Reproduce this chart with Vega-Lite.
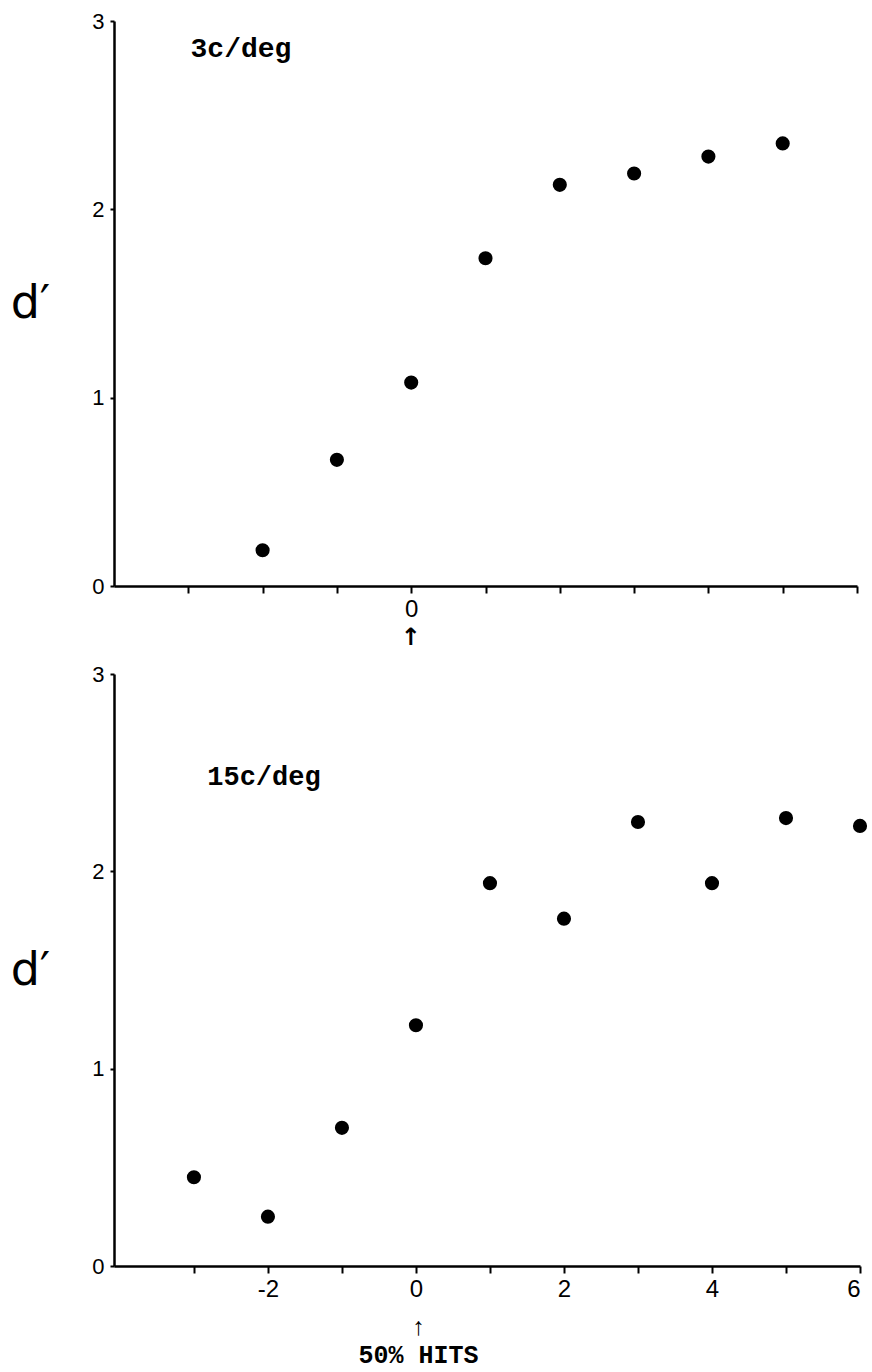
{
  "$schema": "https://vega.github.io/schema/vega-lite/v6.json",
  "background": "white",
  "padding": {"left": 10, "top": 10, "right": 8, "bottom": 2},
  "spacing": 14,
  "config": {
    "view": {"stroke": null},
    "axis": {
      "domainColor": "black", "domainWidth": 2.5, "tickColor": "black", "tickWidth": 2,
      "grid": false, "labelColor": "black", "labelFont": "Liberation Sans", "titleColor": "black"
    }
  },
  "vconcat": [
    {
      "width": 743, "height": 565,
      "layer": [
        {
          "data": {"values": [
            {"offset": -2, "dprime": 0.19},
            {"offset": -1, "dprime": 0.67},
            {"offset": 0, "dprime": 1.08},
            {"offset": 1, "dprime": 1.74},
            {"offset": 2, "dprime": 2.13},
            {"offset": 3, "dprime": 2.19},
            {"offset": 4, "dprime": 2.28},
            {"offset": 5, "dprime": 2.35}
          ]},
          "mark": {"type": "circle", "size": 200, "color": "black", "opacity": 1},
          "encoding": {
            "x": {"field": "offset", "type": "quantitative",
              "scale": {"domain": [-4, 6], "nice": false, "zero": false},
              "axis": {"values": [-3, -2, -1, 0, 1, 2, 3, 4, 5, 6], "format": "d", "labelExpr": "datum.value == 0 ? '0' : ''",
                "tickSize": 7, "labelFontSize": 24, "labelPadding": 4,
                "title": "↑", "titleX": 296, "titleAlign": "center", "titleFont": "DejaVu Sans",
                "titleFontSize": 24, "titleFontWeight": "bold", "titlePadding": 4}},
            "y": {"field": "dprime", "type": "quantitative",
              "scale": {"domain": [0, 3], "nice": false},
              "axis": {"values": [0, 1, 2, 3], "format": "d", "tickSize": 4, "labelFontSize": 22, "labelPadding": 6,
                "title": "d′", "titleAngle": 0, "titleFont": "DejaVu Sans", "titleFontSize": 46,
                "titleFontWeight": "normal", "titleX": -84, "titleY": 282, "titleAlign": "center", "titleBaseline": "middle"}}
          }
        },
        {
          "data": {"values": [{"offset": -2.97, "dprime": 2.85, "label": "3c/deg"}]},
          "mark": {"type": "text", "align": "left", "baseline": "middle", "font": "Liberation Mono",
            "fontSize": 28, "fontWeight": "bold", "color": "black"},
          "encoding": {
            "x": {"field": "offset", "type": "quantitative"},
            "y": {"field": "dprime", "type": "quantitative"},
            "text": {"field": "label"}
          }
        }
      ]
    },
    {
      "width": 746, "height": 592,
      "layer": [
        {
          "data": {"values": [
            {"offset": -3, "dprime": 0.45},
            {"offset": -2, "dprime": 0.25},
            {"offset": -1, "dprime": 0.70},
            {"offset": 0, "dprime": 1.22},
            {"offset": 1, "dprime": 1.94},
            {"offset": 2, "dprime": 1.76},
            {"offset": 3, "dprime": 2.25},
            {"offset": 4, "dprime": 1.94},
            {"offset": 5, "dprime": 2.27},
            {"offset": 6, "dprime": 2.23}
          ]},
          "mark": {"type": "circle", "size": 200, "color": "black", "opacity": 1},
          "encoding": {
            "x": {"field": "offset", "type": "quantitative",
              "scale": {"domain": [-4.08, 6], "nice": false, "zero": false},
              "axis": {"values": [-3, -2, -1, 0, 1, 2, 3, 4, 5, 6], "format": "d",
                "labelExpr": "datum.value % 2 == 0 ? replace(datum.label, '−', '-') : ''",
                "tickSize": 7, "labelFontSize": 24, "labelPadding": 4,
                "title": ["↑", "50% HITS"], "titleX": 304, "titleAlign": "center", "titleFont": "Liberation Mono",
                "titleFontSize": 25, "titleFontWeight": "bold", "titleLineHeight": 28, "titlePadding": 13}},
            "y": {"field": "dprime", "type": "quantitative",
              "scale": {"domain": [0, 3], "nice": false},
              "axis": {"values": [0, 1, 2, 3], "format": "d", "tickSize": 4, "labelFontSize": 22, "labelPadding": 6,
                "title": "d′", "titleAngle": 0, "titleFont": "DejaVu Sans", "titleFontSize": 46,
                "titleFontWeight": "normal", "titleX": -84, "titleY": 296, "titleAlign": "center", "titleBaseline": "middle"}}
          }
        },
        {
          "data": {"values": [{"offset": -2.82, "dprime": 2.48, "label": "15c/deg"}]},
          "mark": {"type": "text", "align": "left", "baseline": "middle", "font": "Liberation Mono",
            "fontSize": 27, "fontWeight": "bold", "color": "black"},
          "encoding": {
            "x": {"field": "offset", "type": "quantitative"},
            "y": {"field": "dprime", "type": "quantitative"},
            "text": {"field": "label"}
          }
        }
      ]
    }
  ]
}
